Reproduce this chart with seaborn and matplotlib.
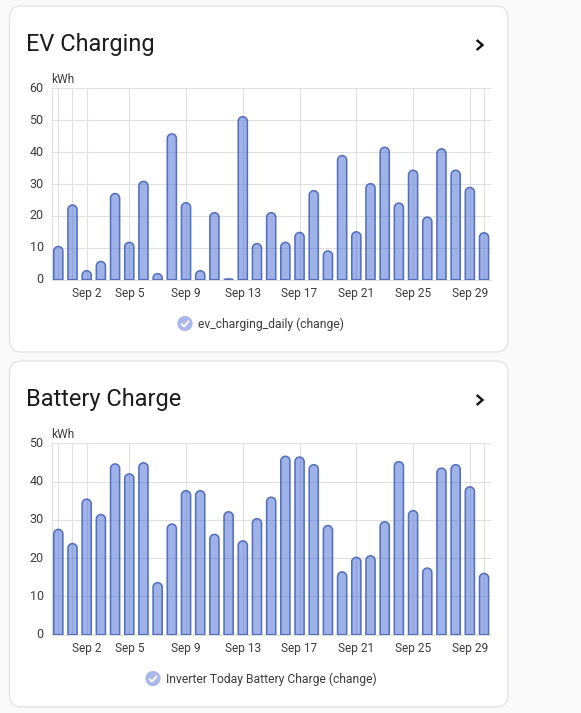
import matplotlib
matplotlib.use('Agg')
import matplotlib.pyplot as plt
import seaborn as sns
from matplotlib.patches import Circle, FancyBboxPatch, PathPatch
from matplotlib.path import Path
from matplotlib.transforms import ScaledTranslation

# x position is the day of September, first bar is Aug 31
days = list(range(0, 31))
tick_days = [2, 5, 9, 13, 17, 21, 25, 29]
tick_labels = ['Sep 2', 'Sep 5', 'Sep 9', 'Sep 13', 'Sep 17', 'Sep 21', 'Sep 25', 'Sep 29']

ev_charging = [10.4, 23.4, 2.8, 5.7, 27.0, 11.7, 30.8, 1.9, 45.7, 24.1, 2.8, 21.0, 0.2, 51.1, 11.3, 21.0,
               11.7, 14.8, 27.9, 9.0, 38.9, 15.0, 30.1, 41.5, 24.0, 34.3, 19.6, 41.0, 34.3, 28.9, 14.7]
battery_charge = [27.5, 23.8, 35.4, 31.4, 44.6, 42.0, 44.9, 13.6, 28.9, 37.6, 37.6, 26.2, 32.1, 24.5, 30.3, 35.9,
                  46.6, 46.4, 44.4, 28.5, 16.4, 20.2, 20.6, 29.5, 45.2, 32.4, 17.4, 43.5, 44.4, 38.6, 16.0]

W, H = 581, 713
FILL = (0.26, 0.41, 0.83, 0.50)
EDGE = '#5470bf'
GRID = '#e0e0e3'
TEXT = '#3c3c3c'

sns.set_theme(style='white')
plt.rcParams['font.family'] = ['Roboto', 'DejaVu Sans']

fig = plt.figure(figsize=(W / 100, H / 100), dpi=100, facecolor='#fafafa')

# overlay in pixel coordinates for the cards and other page furniture
page = fig.add_axes([0, 0, 1, 1], zorder=0)
page.set_xlim(0, W)
page.set_ylim(H, 0)
page.axis('off')


def draw_card(top, bottom, title, legend, legend_x):
    r = 12
    page.add_patch(FancyBboxPatch((9.5 + r, top + r), 498.5 - 2 * r, bottom - top - 2 * r,
                                  boxstyle=f'round,pad={r},rounding_size={r}',
                                  facecolor='white', edgecolor='#e2e2e2', linewidth=0.9))
    page.text(26.5, top + 38.5, title, fontsize=16.9, color='#1c1c1c', va='center', ha='left')
    # chevron
    page.plot([476.7, 482.5, 476.7], [top + 34, top + 39, top + 44], color='#111111', lw=1.7,
              solid_joinstyle='miter', solid_capstyle='butt')
    # legend
    page.add_patch(Circle((legend_x, top + 317.5), 7.6, facecolor='#a9b8e8', edgecolor='none'))
    page.plot([legend_x - 3.8, legend_x - 0.9, legend_x + 4], [top + 317.7, top + 320.5, top + 314.8],
              color='white', lw=1.4, solid_capstyle='butt')
    page.text(legend_x + 13, top + 318, legend, fontsize=8.75, color=TEXT, va='center', ha='left')
    page.text(51.5, top + 73.5, 'kWh', fontsize=8.6, color=TEXT, va='center', ha='left')


def round_bars(ax):
    '''
    Swap the square bars from seaborn for bars with a rounded top.
    '''
    bbox = ax.get_window_extent()
    y0, y1 = ax.get_ylim()
    px_per_unit = bbox.height / (y1 - y0)
    for bar in list(ax.patches):
        x, w, h = bar.get_x(), bar.get_width(), bar.get_height()
        ry = min(4.5 / px_per_unit, h)
        k = 0.45
        verts = [(x, 0), (x, h - ry),
                 (x, h - ry * k), (x + w / 2 * k, h), (x + w / 2, h),
                 (x + w - w / 2 * k, h), (x + w, h - ry * k), (x + w, h - ry),
                 (x + w, 0), (x, 0)]
        codes = [Path.MOVETO, Path.LINETO,
                 Path.CURVE4, Path.CURVE4, Path.CURVE4,
                 Path.CURVE4, Path.CURVE4, Path.CURVE4,
                 Path.LINETO, Path.CLOSEPOLY]
        ax.add_patch(PathPatch(Path(verts, codes), facecolor=FILL, edgecolor=EDGE, linewidth=1.15, zorder=3))
        bar.remove()


def draw_chart(values, ymax, y_top, y_bottom):
    left, right = 51.7, 491
    ax = fig.add_axes([left / W, 1 - y_bottom / H, (right - left) / W, (y_bottom - y_top) / H], zorder=1)
    ax.patch.set_alpha(0)
    sns.barplot(x=days, y=values, ax=ax, color='#9bb1ec', saturation=1, width=0.64)
    ax.set_xlim(-0.465, 30.49)
    ax.set_ylim(0, ymax)
    ax.set_xlabel('')
    ax.set_ylabel('')
    ax.set_yticks(range(0, ymax + 1, 10))
    ax.set_xticks([0, 1] + tick_days + [30], [''] * 2 + tick_labels + [''])
    ax.tick_params(axis='x', length=3.2, width=0.8, color=GRID, pad=1.8, labelsize=8.6, labelcolor=TEXT)
    ax.tick_params(axis='y', length=2.6, width=0.8, color=GRID, pad=3.2, labelsize=9.0, labelcolor=TEXT)
    # the y labels sit about a pixel and a half above their gridlines
    shift = ScaledTranslation(0, 1.5 / 100, fig.dpi_scale_trans)
    for label in ax.get_yticklabels():
        label.set_transform(label.get_transform() + shift)
    ax.set_axisbelow(True)
    ax.grid(True, color=GRID, linewidth=0.8)
    for side in ['top', 'right']:
        ax.spines[side].set_visible(False)
    for side in ['left', 'bottom']:
        ax.spines[side].set_color(GRID)
        ax.spines[side].set_linewidth(0.8)
    round_bars(ax)
    return ax


draw_card(6, 352, 'EV Charging', 'ev_charging_daily (change)', 185)
draw_card(361, 707, 'Battery Charge', 'Inverter Today Battery Charge (change)', 153)

draw_chart(ev_charging, 60, 88.3, 279.7)
draw_chart(battery_charge, 50, 443.3, 634.7)

fig.savefig('out.png', dpi=100, facecolor=fig.get_facecolor())
